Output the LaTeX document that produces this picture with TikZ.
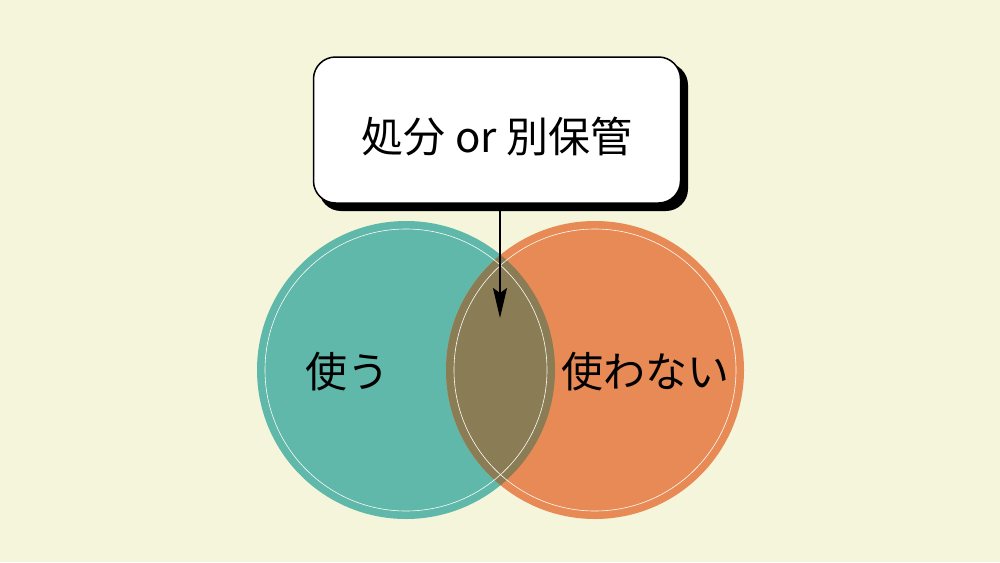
\documentclass[tikz,border=0pt]{standalone}
\usepackage{fontspec}
\newfontfamily\jp{Noto Sans CJK JP}
\usetikzlibrary{arrows.meta,shapes.misc}
\definecolor{bg}{HTML}{F5F5DC}
\definecolor{teal}{HTML}{5FB8AA}
\definecolor{orng}{HTML}{E88A55}
\definecolor{olive}{HTML}{8A7C55}
\tikzset{
  lbl/.style={font=\jp\fontsize{42}{48}\selectfont, inner sep=0pt},
  ring/.style={draw=white!75!bg, line width=0.6pt},
}
\begin{document}
\begin{tikzpicture}[x=1pt,y=-1pt]
\fill[bg] (0,0) rectangle (1000,562);
\useasboundingbox (0,0) rectangle (1000,562);
% circles
\fill[teal] (406,370) circle[radius=149];
\fill[orng] (595,370) circle[radius=149];
\begin{scope}
  \clip (406,370) circle[radius=149];
  \fill[olive] (595,370) circle[radius=149];
\end{scope}
\draw[ring] (406,370) circle[radius=141];
\draw[ring] (595,370) circle[radius=141];
\node[lbl] (use) at (347,372) {使う};
\node[lbl] (nouse) at (645,372) {使わない};
% box
\fill[black, rounded corners=22pt] (319,63) rectangle (688,211);
\node[draw=black, line width=1.5pt, fill=white, rounded corners=22pt,
      minimum width=367pt, minimum height=146pt, inner sep=0pt] (box) at (497,130) {};
\node[lbl] (boxtxt) at (497,137) {処分 or 別保管};
\coordinate (tip) at (500,318);
\draw[line width=1.5pt, -{Stealth[length=30pt,width=14pt,inset=5pt]}] (box.south -| tip) -- (tip);
\end{tikzpicture}
\end{document}
